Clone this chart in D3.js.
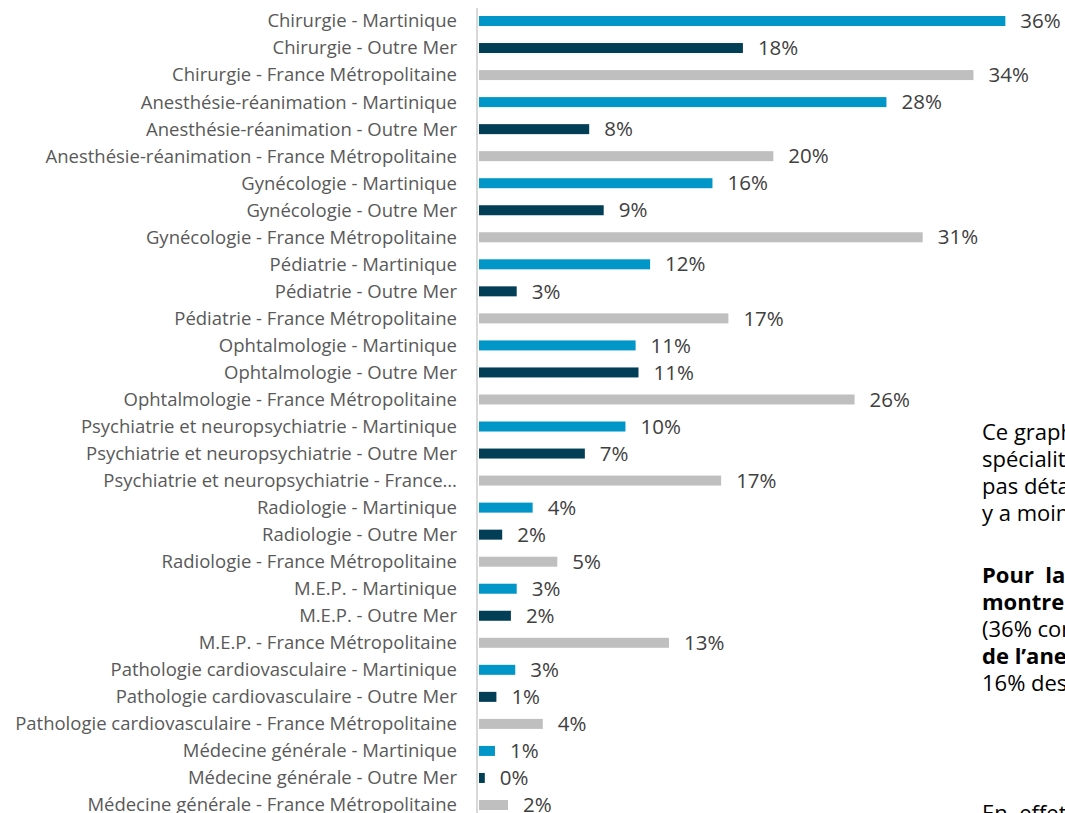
<!DOCTYPE html>
<html>
<head>
<meta charset="utf-8">
<script src="https://cdn.jsdelivr.net/npm/d3@7"></script>
<style>
  body { margin: 0; background: #fff; overflow: hidden; }
  svg { display: block; }
  .y-axis text { font-family: "Open Sans", sans-serif; font-size: 18.5px; fill: #595959; }
  .value { font-family: "Open Sans", sans-serif; font-size: 20.5px; fill: #404040; }
  .note { font-family: "Open Sans", sans-serif; font-size: 22px; fill: #000; }
</style>
</head>
<body>
<div id="chart"></div>
<script>
const specialites = [
  'Chirurgie', 'Anesthésie-réanimation', 'Gynécologie', 'Pédiatrie', 'Ophtalmologie',
  'Psychiatrie et neuropsychiatrie', 'Radiologie', 'M.E.P.', 'Pathologie cardiovasculaire',
  'Médecine générale',
];
const regions = ['Martinique', 'Outre Mer', 'France Métropolitaine'];
const martinique = [36.3, 28.1, 16.1, 11.8, 10.8, 10.1, 3.7, 2.6, 2.5, 1.1];
const outreMer = [18.2, 7.6, 8.6, 2.6, 11.0, 7.3, 1.6, 2.2, 1.2, 0.4];
const franceMetro = [34.1, 20.3, 30.6, 17.2, 25.9, 16.7, 5.4, 13.1, 4.4, 2.0];
const colors = ['#0096c8', '#023f57', '#bfbfbf'];

// lines of the commentary block on the right (cut by the page edge)
const noteLines = [
  { text: 'Ce graphique', bold: false, row: 15.2 },
  { text: 'spécialités', bold: false, row: 16.2 },
  { text: 'pas détaillées', bold: false, row: 17.2 },
  { text: 'y a moins', bold: false, row: 18.2 },
  { text: 'Pour  la', bold: true, row: 20.5 },
  { text: 'montrent', bold: true, row: 21.5 },
  { text: '(36% contre', bold: false, row: 22.5 },
  { text: 'de l’anesthésie', bold: true, row: 23.5 },
  { text: '16% des', bold: false, row: 24.5 },
  { text: 'En  effet', bold: false, row: 29.3 },
];

const values = [martinique, outreMer, franceMetro];
const rows = [];
specialites.forEach((s, i) => {
  regions.forEach((r, j) => {
    rows.push({ label: `${s} - ${r}`, value: values[j][i], region: j });
  });
});

const width = 1065;
const height = 813;

const svg = d3.select('#chart').append('svg')
  .attr('width', width)
  .attr('height', height);

const x = d3.scaleLinear().domain([0, 40]).range([479, 479 + 580]);
const y = d3.scalePoint().domain(rows.map((d) => d.label)).range([21, 805]);
const barHeight = 10;

// vertical axis line
svg.append('line')
  .attr('x1', 477).attr('x2', 477)
  .attr('y1', 8).attr('y2', height)
  .attr('stroke', '#d9d9d9')
  .attr('stroke-width', 2);

const yAxis = d3.axisLeft(y).tickSize(0).tickPadding(20);
const yAxisGroup = svg.append('g')
  .attr('class', 'y-axis')
  .attr('transform', 'translate(477,0)')
  .call(yAxis);
yAxisGroup.select('.domain').remove();
yAxisGroup.selectAll('text').attr('font-family', null).attr('font-size', null);

// labels too wide for the margin lose whole words and get an ellipsis
const maxLabel = 455;
yAxisGroup.selectAll('text').each(function () {
  const t = d3.select(this);
  const words = t.text().split(' ');
  while (words.length > 1 && this.getComputedTextLength() > maxLabel) {
    words.pop();
    t.text(`${words.join(' ')}…`);
  }
});

svg.selectAll('.bar')
  .data(rows)
  .join('rect')
  .attr('class', 'bar')
  .attr('x', x(0))
  .attr('y', (d) => y(d.label) - barHeight / 2)
  .attr('width', (d) => x(d.value) - x(0))
  .attr('height', barHeight)
  .attr('fill', (d) => colors[d.region]);

svg.selectAll('.value')
  .data(rows)
  .join('text')
  .attr('class', 'value')
  .attr('x', (d) => x(d.value) + 15)
  .attr('y', (d) => y(d.label))
  .attr('dy', '0.35em')
  .text((d) => `${Math.round(d.value)}%`);

const step = y.step();
svg.selectAll('.note')
  .data(noteLines)
  .join('text')
  .attr('class', 'note')
  .attr('x', 982)
  .attr('y', (d) => 21 + d.row * step)
  .attr('dy', '0.35em')
  .style('font-weight', (d) => (d.bold ? 'bold' : 'normal'))
  .style('white-space', 'pre')
  .text((d) => d.text);
</script>
</body>
</html>
